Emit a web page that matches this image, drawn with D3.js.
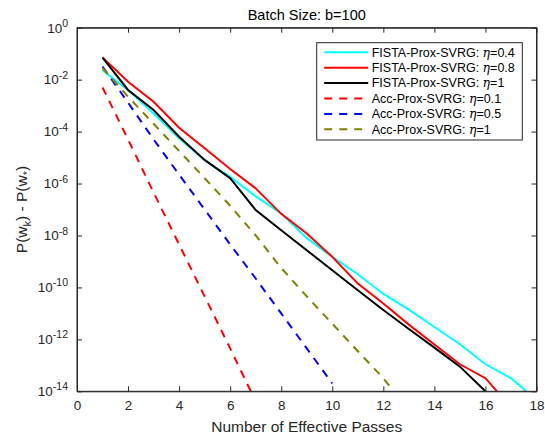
<!DOCTYPE html>
<html>
<head>
<meta charset="utf-8">
<script src="https://cdn.jsdelivr.net/npm/d3@7"></script>
<style>
  body { margin: 0; background: #fff; }
  svg { font-family: "Liberation Sans", Arial, sans-serif; }
  .axis path, .axis line { stroke: #262626; }
  .axis text { fill: #262626; font-size: 13.5px; }
</style>
</head>
<body>
<svg id="chart" width="545" height="440"></svg>
<script>
// values (y is P(w_k) - P(w_*))
var fista04_x = [1, 2, 3, 4, 5, 6, 7, 8, 9, 10, 11, 12, 13, 14, 15, 16, 17, 17.6];
var fista04_y = [2.3e-2, 4.0e-3, 5.0e-4, 5.5e-5, 7.9e-6, 1.8e-6, 3.2e-7, 7.1e-8, 7.9e-9, 1.5e-9,
                 3.2e-10, 5.6e-11, 1.4e-11, 3.0e-12, 6.5e-13, 1.1e-13, 3.2e-14, 1.0e-14];

var fista08_x = [1, 2, 3, 4, 5, 6, 7, 8, 9, 10, 11, 12, 13, 14, 15, 16, 16.45];
var fista08_y = [7.2e-2, 8.3e-3, 1.4e-3, 1.4e-4, 2.3e-5, 3.6e-6, 6.5e-7, 6.8e-8, 1.2e-8, 1.5e-9,
                 1.4e-10, 2.4e-11, 3.7e-12, 6.3e-13, 1.1e-13, 3.2e-14, 1.0e-14];

var fista1_x = [1, 2, 3, 4, 5, 6, 7, 8, 9, 10, 11, 12, 13, 14, 15, 16];
var fista1_y = [7.1e-2, 4.0e-3, 6.8e-4, 6.3e-5, 8.1e-6, 1.6e-6, 9.5e-8, 1.6e-8, 2.7e-9, 4.6e-10,
                7.8e-11, 1.35e-11, 2.5e-12, 4.8e-13, 8.9e-14, 1.0e-14];

var acc01_x = [1, 2, 3, 4, 5, 6, 7];
var acc01_y = [5.0e-3, 5.0e-5, 4.5e-7, 4.5e-9, 4.5e-11, 4.5e-13, 4.0e-15];

var acc05_x = [1, 2, 3, 4, 5, 6, 7, 8, 9, 10];
var acc05_y = [3.2e-2, 1.3e-3, 5.0e-5, 2.2e-6, 1.0e-7, 4.5e-9, 2.2e-10, 1.0e-11, 4.5e-13, 2.0e-14];

var acc1_x = [1, 2, 3, 4, 5, 6, 7, 8, 9, 10, 11, 12, 12.4];
var acc1_y = [2.8e-2, 2.2e-3, 2.0e-4, 1.8e-5, 1.6e-6, 1.4e-7, 1.0e-8, 5.6e-10, 4.5e-11, 4.0e-12,
              3.5e-13, 3.2e-14, 1.0e-14];

var x_ticks = [0, 2, 4, 6, 8, 10, 12, 14, 16, 18];
var y_exps = [0, -2, -4, -6, -8, -10, -12, -14];

var series = [
  {name: "FISTA-Prox-SVRG: ", eta: "0.4", xs: fista04_x, ys: fista04_y, color: "#00ffff", dash: null},
  {name: "FISTA-Prox-SVRG: ", eta: "0.8", xs: fista08_x, ys: fista08_y, color: "#ff0000", dash: null},
  {name: "FISTA-Prox-SVRG: ", eta: "1",   xs: fista1_x,  ys: fista1_y,  color: "#000000", dash: null},
  {name: "Acc-Prox-SVRG: ",   eta: "0.1", xs: acc01_x,   ys: acc01_y,   color: "#ff0000", dash: "8,7"},
  {name: "Acc-Prox-SVRG: ",   eta: "0.5", xs: acc05_x,   ys: acc05_y,   color: "#0000ff", dash: "8,7"},
  {name: "Acc-Prox-SVRG: ",   eta: "1",   xs: acc1_x,    ys: acc1_y,    color: "#808000", dash: "8,7"}
];

var svg = d3.select("#chart");
var margin = {left: 77, right: 8.5, top: 27.7, bottom: 48.7};
var width = 545 - margin.left - margin.right;
var height = 440 - margin.top - margin.bottom;

var x = d3.scaleLinear().domain([0, 18]).range([0, width]);
var y = d3.scaleLog().domain([1e-14, 1]).range([height, 0]);

var g = svg.append("g").attr("transform", "translate(" + margin.left + "," + margin.top + ")");

g.append("clipPath").attr("id", "clip")
  .append("rect").attr("width", width).attr("height", height);

// lines
var line = d3.line()
  .x(function(d) { return x(d[0]); })
  .y(function(d) { return y(d[1]); });

g.append("g").attr("clip-path", "url(#clip)")
  .selectAll("path")
  .data(series)
  .enter().append("path")
    .attr("d", function(s) { return line(d3.zip(s.xs, s.ys)); })
    .attr("fill", "none")
    .attr("stroke", function(s) { return s.color; })
    .attr("stroke-width", 2)
    .attr("stroke-dasharray", function(s) { return s.dash; });

// axes, ticks pointing inward
var yTickVals = y_exps.map(function(e) { return Math.pow(10, e); });

g.append("g").attr("class", "axis")
  .attr("transform", "translate(0," + height + ")")
  .call(d3.axisBottom(x).tickValues(x_ticks).tickSize(-5).tickPadding(9).tickSizeOuter(0));

g.append("g").attr("class", "axis")
  .call(d3.axisTop(x).tickValues(x_ticks).tickSize(-5).tickFormat("").tickSizeOuter(0));

var yAxis = g.append("g").attr("class", "axis")
  .call(d3.axisLeft(y).tickValues(yTickVals).tickSize(-5).tickPadding(9).tickSizeOuter(0));

g.append("g").attr("class", "axis")
  .attr("transform", "translate(" + width + ",0)")
  .call(d3.axisRight(y).tickValues(yTickVals).tickSize(-5).tickFormat("").tickSizeOuter(0));

// 10^n labels
yAxis.selectAll(".tick text").each(function(d) {
  var t = d3.select(this).text("");
  var e = Math.round(Math.log10(d));
  t.append("tspan").text("10");
  t.append("tspan").attr("dy", "-0.55em").style("font-size", "10.5px").text(e);
});

// frame
g.append("rect")
  .attr("width", width).attr("height", height)
  .attr("fill", "none").attr("stroke", "#262626").attr("stroke-width", 1);

// title and labels
svg.append("text")
  .attr("x", margin.left + width / 2).attr("y", 20)
  .attr("text-anchor", "middle").style("font-size", "14.5px").attr("fill", "#000")
  .text("Batch Size: b=100");

svg.append("text")
  .attr("x", margin.left + width / 2).attr("y", 432)
  .attr("text-anchor", "middle").style("font-size", "15.5px").attr("fill", "#262626")
  .text("Number of Effective Passes");

var ylab = svg.append("text")
  .attr("transform", "translate(27," + (margin.top + height / 2) + ") rotate(-90)")
  .attr("text-anchor", "middle").style("font-size", "15.5px").attr("fill", "#262626");
ylab.append("tspan").text("P(w");
ylab.append("tspan").attr("dy", "4").style("font-size", "11px").text("k");
ylab.append("tspan").attr("dy", "-4").text(") - P(w");
ylab.append("tspan").attr("dy", "4").style("font-size", "11px").text("*");
ylab.append("tspan").attr("dy", "-4").text(")");

// legend
var lg = svg.append("g").attr("transform", "translate(316.7,42.7)");
lg.append("rect")
  .attr("width", 205.6).attr("height", 97.3)
  .attr("fill", "#fff").attr("stroke", "#262626").attr("stroke-width", 1);

var rows = lg.selectAll("g.row")
  .data(series)
  .enter().append("g")
    .attr("class", "row")
    .attr("transform", function(d, i) { return "translate(0," + (9.6 + i * 15.4) + ")"; });

rows.append("line")
  .attr("x1", 7.5).attr("x2", 51.5)
  .attr("stroke", function(s) { return s.color; })
  .attr("stroke-width", 2)
  .attr("stroke-dasharray", function(s) { return s.dash; });

var lt = rows.append("text")
  .attr("x", 55).attr("dy", "0.35em")
  .style("font-size", "12.5px").attr("fill", "#000");
lt.append("tspan").text(function(s) { return s.name; });
lt.append("tspan").style("font-style", "italic").style("font-family", "'DejaVu Serif', serif").text("η");
lt.append("tspan").text(function(s) { return "=" + s.eta; });
</script>
</body>
</html>
